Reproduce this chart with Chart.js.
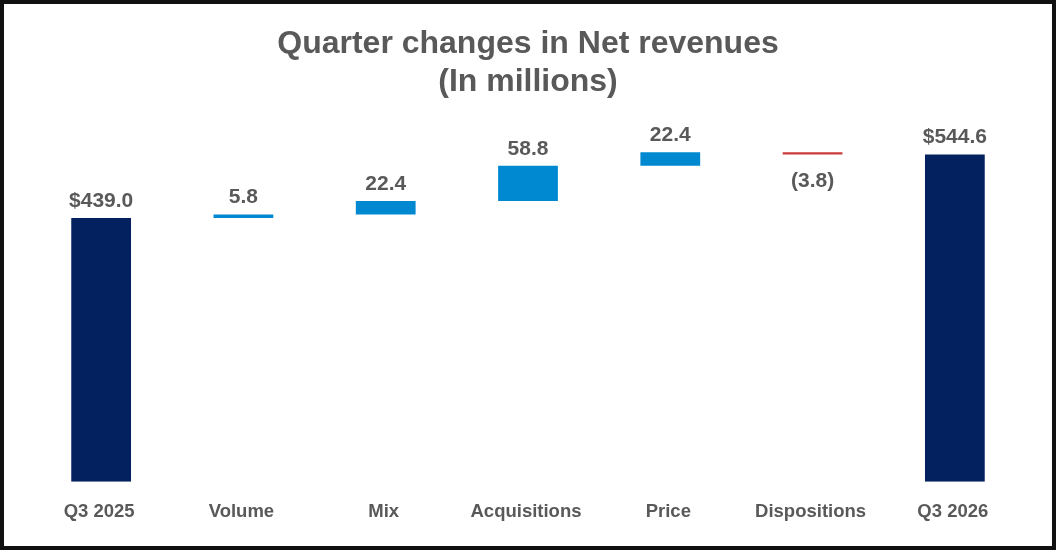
<!DOCTYPE html>
<html>
<head>
<meta charset="utf-8">
<script src="https://cdn.jsdelivr.net/npm/chart.js@4"></script>
<style>
  html, body { margin: 0; padding: 0; background: #fff; }
  #frame { width: 1056px; height: 550px; box-sizing: border-box; border: 4px solid #111; background: #fff; }
  canvas { display: block; }
</style>
</head>
<body>
<div id="frame"><canvas id="c" width="1048" height="542"></canvas></div>
<script>
const categories = ['Q3 2025', 'Volume', 'Mix', 'Acquisitions', 'Price', 'Dispositions', 'Q3 2026'];
const startTotal = 439.0;
const deltas = [5.8, 22.4, 58.8, 22.4, -3.8];
const endTotal = 544.6;
const titleLines = ['Quarter changes in Net revenues', '(In millions)'];

const navy = '#03205F';
const blue = '#0088D1';
const red = '#CC3A3A';
const grey = '#595959';

// Build floating bars from the named arrays
const ranges = [];
const colors = [];
const labels = [];
const isNeg = [];
ranges.push([0, startTotal]); colors.push(navy); labels.push('$' + startTotal.toFixed(1)); isNeg.push(false);
let running = startTotal;
deltas.forEach(d => {
  const next = running + d;
  ranges.push([Math.min(running, next), Math.max(running, next)]);
  colors.push(d >= 0 ? blue : red);
  labels.push(d >= 0 ? d.toFixed(1) : '(' + Math.abs(d).toFixed(1) + ')');
  isNeg.push(d < 0);
  running = next;
});
ranges.push([0, endTotal]); colors.push(navy); labels.push('$' + endTotal.toFixed(1)); isNeg.push(false);

const labelPlugin = {
  id: 'waterfallLabels',
  afterDatasetsDraw(chart) {
    const ctx = chart.ctx;
    const meta = chart.getDatasetMeta(0);
    ctx.save();
    ctx.font = 'bold 21px "Liberation Sans", Arial, sans-serif';
    ctx.fillStyle = grey;
    ctx.textAlign = 'center';
    ctx.textBaseline = 'alphabetic';
    meta.data.forEach((bar, i) => {
      const p = bar.getProps(['x', 'y', 'base'], true);
      const top = Math.min(p.y, p.base);
      const bottom = Math.max(p.y, p.base);
      if (isNeg[i]) {
        ctx.fillText(labels[i], p.x, bottom + 33);
      } else {
        ctx.fillText(labels[i], p.x, top - 11);
      }
    });
    ctx.restore();
  }
};

new Chart(document.getElementById('c'), {
  type: 'bar',
  data: {
    labels: categories,
    datasets: [{
      data: ranges,
      backgroundColor: colors,
      borderWidth: 0,
      borderSkipped: false,
      categoryPercentage: 1.0,
      barPercentage: 0.42
    }]
  },
  options: {
    responsive: false,
    animation: false,
    devicePixelRatio: 1,
    layout: { padding: { left: 26, right: 26, top: 0, bottom: 4 } },
    plugins: {
      legend: { display: false },
      tooltip: { enabled: false },
      title: {
        display: true,
        text: titleLines,
        color: grey,
        font: { family: '"Liberation Sans", Arial, sans-serif', size: 32, weight: 'bold', lineHeight: 1.19 },
        padding: { top: 21, bottom: 20 }
      }
    },
    scales: {
      x: {
        grid: { display: false, drawTicks: false },
        border: { display: false },
        ticks: {
          color: grey,
          padding: 19,
          labelOffset: -2,
          font: { family: '"Liberation Sans", Arial, sans-serif', size: 18.5, weight: 'bold' }
        }
      },
      y: {
        display: false,
        min: 0,
        max: 600
      }
    }
  },
  plugins: [labelPlugin]
});
</script>
</body>
</html>
